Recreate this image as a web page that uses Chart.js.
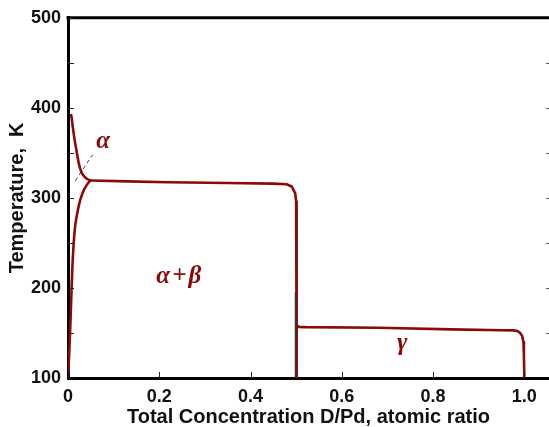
<!DOCTYPE html>
<html><head><meta charset="utf-8">
<script src="https://cdn.jsdelivr.net/npm/chart.js@4"></script>
<style>html,body{margin:0;padding:0;background:#fff}</style>
</head><body>
<canvas id="c" width="549" height="427" style="display:block;width:549px;height:427px"></canvas>
<script>
// ---- tick definitions ----
const xTicks = [0, 0.2, 0.4, 0.6, 0.8, 1.0];
const yTicks = [100, 150, 200, 250, 300, 350, 400, 450, 500];
const yLabelled = [100, 200, 300, 400, 500];

// ---- phase boundaries (x = D/Pd, T = K) ----
// alpha solvus, lower branch (bottom up to the triple junction)
const lowerX = [0.0005, 0.002, 0.0045, 0.007, 0.0095, 0.0125, 0.016, 0.021, 0.027, 0.034, 0.042, 0.049];
const lowerT = [105, 120, 150, 186, 222, 250, 270, 285, 298, 308, 315, 319.3];
// alpha/beta plateau and vertical edge at 0.5
const plateauX = [0.049, 0.13, 0.22, 0.35, 0.45, 0.479, 0.490, 0.4977, 0.500, 0.501, 0.501];
const plateauT = [319.3, 318.3, 317.4, 316.5, 315.8, 315.2, 312.7, 305.3, 296, 250, 100];
// alpha solvus, upper branch
const upperX = [0.007, 0.009, 0.012, 0.016, 0.0197, 0.023, 0.027, 0.031, 0.036, 0.042, 0.049];
const upperT = [392, 385, 373, 360, 349.4, 340, 332, 327, 323.7, 321, 319.3];
// gamma boundary
const gammaX = [0.501, 0.506, 0.52, 0.68, 0.84, 0.95, 0.975, 0.983, 0.990, 0.995, 0.998, 0.999, 1.0];
const gammaT = [158.4, 156.8, 156.5, 155.8, 154, 153, 152.9, 152.5, 150.5, 147, 140, 125, 100];
// leader line pointing to the alpha label
const leaderX = [0.016, 0.054];
const leaderT = [319, 348];
// faint dark line under the vertical at 0.5
const underX = [0.4985, 0.4985];
const underT = [195, 100];

// ---- phase labels ----
const labelText = ['\u03B1', '\u03B1\u200A+\u200A\u03B2', '\u03B3'];
const labelX = [0.062, 0.1933, 0.721];
const labelT = [355.6, 205.8, 130.9];

const RED = '#8a0a0a';
const pts = (xs, ts) => xs.map((x, i) => ({x, y: ts[i]}));

const decor = {
  id: 'decor',
  afterDatasetsDraw(chart) {
    const {ctx, chartArea: a, scales: {x, y}} = chart;
    ctx.save();
    // top border
    ctx.strokeStyle = '#000'; ctx.lineWidth = 3;
    ctx.beginPath(); ctx.moveTo(a.left - 1.5, a.top); ctx.lineTo(a.right, a.top); ctx.stroke();
    // inward ticks
    ctx.lineWidth = 1; ctx.strokeStyle = '#222';
    xTicks.forEach(v => {
      const px = Math.round(x.getPixelForValue(v)) + 0.5;
      ctx.beginPath(); ctx.moveTo(px, a.bottom); ctx.lineTo(px, a.bottom - 6); ctx.stroke();
    });
    yTicks.forEach(v => {
      const py = Math.round(y.getPixelForValue(v)) + 0.5;
      ctx.beginPath(); ctx.moveTo(a.left, py); ctx.lineTo(a.left + 6, py); ctx.stroke();
      if (v > 100 && v < 500) {
        ctx.strokeStyle = '#555';
        ctx.beginPath(); ctx.moveTo(a.right - 3, py); ctx.lineTo(a.right, py); ctx.stroke();
        ctx.strokeStyle = '#222';
      }
    });
    // phase labels
    ctx.fillStyle = RED;
    ctx.font = 'italic bold 25px "Liberation Serif"';
    ctx.textAlign = 'left'; ctx.textBaseline = 'alphabetic';
    labelText.forEach((t, i) => {
      ctx.fillText(t, x.getPixelForValue(labelX[i]), y.getPixelForValue(labelT[i]));
    });
    ctx.restore();
  }
};

const tickFont = {family: '"Liberation Sans", Arial, sans-serif', weight: 'bold', size: 18};
const titleFont = {family: '"Liberation Sans", Arial, sans-serif', weight: 'bold', size: 20, lineHeight: 1};
const lineOpts = {showLine: true, borderColor: RED, borderWidth: 2.6, pointRadius: 0, borderJoinStyle: 'round', borderCapStyle: 'round'};

new Chart(document.getElementById('c'), {
  type: 'scatter',
  data: {
    datasets: [
      {data: pts(underX, underT), showLine: true, borderColor: '#333', borderWidth: 1.5, pointRadius: 0},
      {data: pts(leaderX, leaderT), showLine: true, borderColor: '#444', borderWidth: 1, borderDash: [4, 3], pointRadius: 0},
      {data: pts(lowerX, lowerT), ...lineOpts, tension: 0.3},
      {data: pts(plateauX, plateauT), ...lineOpts},
      {data: pts(upperX, upperT), ...lineOpts, tension: 0.3},
      {data: pts(gammaX, gammaT), ...lineOpts}
    ]
  },
  options: {
    responsive: false,
    animation: false,
    events: [],
    layout: {padding: {top: 15, right: 0, left: 0, bottom: 0}},
    plugins: {legend: {display: false}, tooltip: {enabled: false}},
    scales: {
      x: {
        type: 'linear', min: 0, max: 1.054,
        afterBuildTicks: s => { s.ticks = xTicks.map(v => ({value: v})); },
        afterFit: s => { s.height = 49; },
        ticks: {callback: v => v === 0 ? '0' : v.toFixed(1), font: tickFont, color: '#111', padding: 8, maxRotation: 0, autoSkip: false},
        grid: {display: false, drawTicks: false},
        border: {display: true, color: '#000', width: 3},
        title: {display: true, text: 'Total Concentration D/Pd, atomic ratio', font: titleFont, color: '#111', padding: {top: 0, bottom: 0}}
      },
      y: {
        type: 'linear', min: 100, max: 500,
        afterBuildTicks: s => { s.ticks = yTicks.map(v => ({value: v})); },
        afterFit: s => { s.width = 68; },
        ticks: {callback: v => yLabelled.includes(v) ? String(v) : '', font: tickFont, color: '#111', padding: 7, autoSkip: false},
        grid: {display: false, drawTicks: false},
        border: {display: true, color: '#000', width: 3},
        title: {display: true, text: 'Temperature,  K', font: {...titleFont, lineHeight: 1.2}, color: '#111', padding: {top: 5, bottom: 0}}
      }
    }
  },
  plugins: [decor]
});
</script>
</body></html>
